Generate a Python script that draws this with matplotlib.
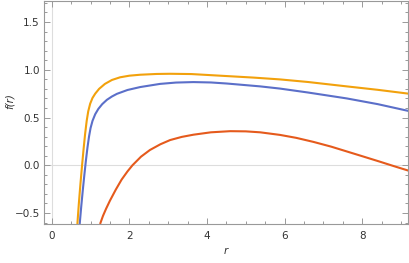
import matplotlib
matplotlib.use("Agg")
import matplotlib.pyplot as plt
from matplotlib.ticker import MultipleLocator

# Values
r_orange = [0.66, 0.70, 0.74, 0.78, 0.82, 0.86, 0.90, 0.94, 0.99, 1.05, 1.12, 1.22, 1.37, 1.55, 1.76, 2.0, 2.28, 2.7, 3.05, 3.6, 4.51, 5.2, 5.88, 6.6, 7.6, 8.4, 9.19]
f_orange = [-0.615, -0.39, -0.19, -0.005, 0.17, 0.33, 0.465, 0.565, 0.645, 0.705, 0.75, 0.80, 0.852, 0.893, 0.921, 0.938, 0.948, 0.956, 0.958, 0.955, 0.934, 0.918, 0.899, 0.872, 0.826, 0.790, 0.75]

r_blue = [0.72, 0.76, 0.80, 0.84, 0.88, 0.92, 0.96, 1.00, 1.05, 1.12, 1.20, 1.30, 1.42, 1.55, 1.68, 1.95, 2.28, 2.79, 3.2, 3.65, 4.1, 4.51, 5.37, 5.88, 6.6, 7.6, 8.4, 9.19]
f_blue = [-0.615, -0.43, -0.26, -0.10, 0.05, 0.185, 0.30, 0.39, 0.465, 0.535, 0.59, 0.64, 0.685, 0.72, 0.748, 0.788, 0.819, 0.852, 0.866, 0.871, 0.867, 0.856, 0.826, 0.803, 0.762, 0.700, 0.640, 0.569]

r_red = [1.245, 1.32, 1.40, 1.50, 1.65, 1.80, 1.95, 2.08, 2.30, 2.53, 2.80, 3.05, 3.35, 3.65, 4.1, 4.6, 5.0, 5.37, 5.88, 6.3, 6.74, 7.2, 7.6, 8.0, 8.46, 8.8, 9.19]
f_red = [-0.615, -0.53, -0.455, -0.37, -0.255, -0.15, -0.065, 0.0, 0.09, 0.16, 0.22, 0.264, 0.297, 0.320, 0.345, 0.357, 0.355, 0.345, 0.318, 0.287, 0.245, 0.195, 0.145, 0.095, 0.037, -0.007, -0.056]

xticks = [0, 2, 4, 6, 8]
yticks = [-0.5, 0.0, 0.5, 1.0, 1.5]

fig = plt.figure(figsize=(4.10, 2.63), dpi=100)
ax = fig.add_axes([44/410, 1 - 224/263, 364/410, 223/263])

ax.axhline(0, color="#dddddd", lw=0.8, zorder=0)
ax.axvline(0, color="#dddddd", lw=0.8, zorder=0)

ax.plot(r_red, f_red, color="#E55A1C", lw=1.5, solid_capstyle="butt")
ax.plot(r_blue, f_blue, color="#5B6FC9", lw=1.5, solid_capstyle="butt")
ax.plot(r_orange, f_orange, color="#F2A10C", lw=1.5, solid_capstyle="butt")

ax.set_xlim(-0.2, 9.18)
ax.set_ylim(-0.615, 1.72)
ax.set_xticks(xticks)
ax.set_yticks(yticks)
ax.set_xticklabels([str(v) for v in xticks])
ax.set_yticklabels(["\u22120.5", "0.0", "0.5", "1.0", "1.5"])
ax.xaxis.set_minor_locator(MultipleLocator(0.5))
ax.yaxis.set_minor_locator(MultipleLocator(0.1))

for s in ax.spines.values():
    s.set_color("#999999")
    s.set_linewidth(0.8)

ax.tick_params(which="both", direction="in", top=True, right=True,
               color="#999999", labelcolor="#333333", labelsize=7.5, width=0.7)
ax.tick_params(which="major", length=4)
ax.tick_params(axis="y", which="major", pad=3)
ax.tick_params(axis="x", which="major", pad=5)
ax.tick_params(which="minor", length=2)

ax.set_xlabel("r", style="italic", fontsize=7.5, color="#333333", labelpad=4)
ax.set_ylabel("f(r)", style="italic", fontsize=7.5, color="#333333")
ax.yaxis.set_label_coords(-0.093, 0.55)
ax.yaxis.label.set_va("center")

fig.savefig("out.png", dpi=100)
